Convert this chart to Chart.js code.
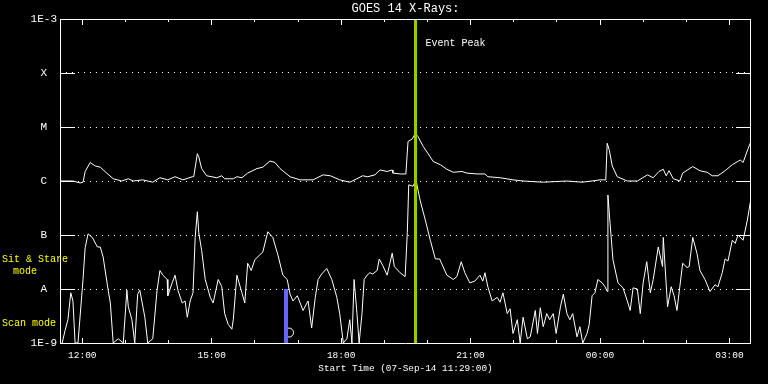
<!DOCTYPE html>
<html><head><meta charset="utf-8">
<script src="https://cdn.jsdelivr.net/npm/chart.js@4.4.0/dist/chart.umd.min.js"></script>
<style>html,body{margin:0;padding:0;background:#000;overflow:hidden}#wrap{width:768px;height:384px}</style>
</head><body><div id="wrap"><canvas id="c" width="768" height="384"></canvas></div>
<script>
// Times are minutes after 00:00 on 07-Sep-14 (values past 1440 are on 08-Sep)
const longTimes = [689,707,717,721,724,731,738,745,754,763,775,784,791,804,818,828,839,849,860,873,875,880,882,886,893,907,914,918,930,935,942,950,963,971,981,988,995,1009,1023,1041,1055,1065,1078,1092,1102,1110,1117,1127,1134,1144,1151,1152,1162,1166,1170,1173,1179,1183,1187,1194,1201,1208,1218,1227,1236,1248,1255,1269,1280,1284,1301,1319,1333,1361,1394,1415,1429,1440,1448,1450,1453,1457,1464,1478,1492,1506,1514,1522,1528,1532,1536,1542,1551,1555,1569,1579,1589,1596,1604,1614,1624,1635,1639,1646,1650];
const longFlux = [1.0e-6,1.0e-6,0.92e-6,0.95e-6,1.5e-6,2.2e-6,1.9e-6,1.8e-6,1.4e-6,1.1e-6,1.0e-6,1.1e-6,1.0e-6,1.05e-6,0.95e-6,1.15e-6,1.05e-6,1.2e-6,1.05e-6,1.2e-6,1.2e-6,3.2e-6,2.8e-6,1.7e-6,1.25e-6,1.15e-6,1.25e-6,1.1e-6,1.1e-6,1.2e-6,1.15e-6,1.4e-6,1.7e-6,1.8e-6,2.35e-6,2.2e-6,1.7e-6,1.2e-6,1.05e-6,1.05e-6,1.3e-6,1.25e-6,1.05e-6,0.95e-6,1.1e-6,1.25e-6,1.2e-6,1.3e-6,1.6e-6,1.5e-6,1.6e-6,1.4e-6,1.35e-6,1.35e-6,1.35e-6,5.4e-6,6.0e-6,7.6e-6,6.6e-6,4.4e-6,3.2e-6,2.3e-6,2.0e-6,1.65e-6,1.45e-6,1.5e-6,1.4e-6,1.35e-6,1.35e-6,1.2e-6,1.15e-6,1.05e-6,1.0e-6,0.95e-6,1.0e-6,0.95e-6,1.0e-6,1.05e-6,1.05e-6,5.0e-6,3.7e-6,1.9e-6,1.2e-6,1.0e-6,1.0e-6,1.3e-6,1.15e-6,1.5e-6,1.65e-6,1.25e-6,1.55e-6,1.1e-6,1.0e-6,1.4e-6,1.85e-6,1.55e-6,1.45e-6,1.25e-6,1.25e-6,1.55e-6,2.0e-6,2.45e-6,2.2e-6,4.0e-6,5.4e-6];
const shortTimes = [692,696,700,704,707,710,714,721,724,728,734,741,745,749,756,759,763,770,777,782,784,789,793,797,800,807,811,818,824,828,832,838,839,845,849,853,859,863,866,870,874,877,880,882,886,891,898,902,909,914,918,923,928,930,935,942,946,950,955,960,967,971,978,985,992,999,1005,1009,1013,1019,1023,1027,1034,1039,1044,1048,1053,1060,1067,1074,1078,1083,1088,1092,1095,1098,1102,1105,1109,1112,1116,1120,1124,1130,1133,1138,1144,1151,1154,1162,1169,1172,1174,1180,1184,1190,1197,1204,1211,1217,1227,1236,1241,1247,1252,1259,1266,1273,1277,1280,1284,1290,1297,1301,1305,1311,1315,1319,1325,1329,1333,1339,1343,1350,1353,1357,1361,1366,1370,1375,1379,1385,1389,1394,1398,1402,1408,1412,1416,1422,1425,1429,1433,1437,1443,1447,1450,1451,1454,1458,1465,1472,1478,1482,1486,1492,1496,1500,1505,1510,1514,1521,1527,1528,1534,1539,1543,1547,1551,1555,1561,1564,1569,1575,1579,1586,1593,1600,1604,1610,1614,1618,1624,1628,1632,1639,1645,1649];
const shortFlux = [1.0e-9,1.7e-9,2.7e-9,8.5e-9,6e-9,1e-9,1e-9,1.5e-8,5.8e-8,1.05e-7,9e-8,6e-8,6e-8,3.9e-8,9.5e-9,5.5e-9,1e-9,1.2e-9,1e-9,9.5e-9,4.7e-9,2.7e-9,1e-9,8e-9,9.5e-9,3e-9,1e-9,1.2e-9,9.5e-9,2.2e-8,1.8e-8,1.5e-8,7.5e-9,1.3e-8,1.8e-8,9.5e-9,5.5e-9,6e-9,3e-9,6e-9,8.5e-9,9e-8,2.7e-7,1.1e-7,5.2e-8,1.5e-8,7e-9,5.5e-9,1.5e-8,1.1e-8,3.5e-9,2.2e-9,1.8e-9,2.7e-9,1.8e-8,8.5e-9,5.5e-9,3e-8,2.2e-8,3.5e-8,4.3e-8,4.8e-8,1.15e-7,9e-8,4.3e-8,1.8e-8,1.5e-8,8e-9,6e-9,7.5e-9,5.5e-9,4e-9,6e-9,1.9e-9,7e-9,1.5e-8,1.9e-8,2.4e-8,1.5e-8,7e-9,3.5e-9,1e-9,1.2e-9,2.7e-9,1e-9,1.5e-8,3.5e-9,1e-9,3.5e-9,1.5e-8,1.8e-8,2e-8,1.9e-8,2.2e-8,3.6e-8,2.7e-8,1.8e-8,4.6e-8,2.6e-8,2e-8,1.7e-8,1.1e-7,8.5e-7,8e-7,1.05e-6,4.3e-7,1.9e-7,8e-8,3.6e-8,3.6e-8,1.8e-8,1.5e-8,1.7e-8,3.2e-8,2e-8,1.3e-8,1.4e-8,1.8e-8,1.4e-8,2e-8,1.1e-8,6e-9,7e-9,5.7e-9,8.5e-9,3.5e-9,4.3e-9,1.5e-9,2.7e-9,1e-9,3e-9,1.2e-9,1.3e-9,4e-9,1.5e-9,4.5e-9,2e-9,3.5e-9,2.7e-9,3.5e-9,1.5e-9,4.7e-9,8e-9,3.5e-9,2.7e-9,3.5e-9,1.3e-9,2e-9,1e-9,1.5e-9,2.2e-9,7.5e-9,8.5e-9,1.5e-8,1.3e-8,1.1e-8,9e-9,5.5e-7,1.65e-7,3.5e-8,1.3e-8,1.05e-8,6e-9,4e-9,1.05e-8,1.0e-8,3.5e-9,1.3e-8,3.2e-8,8.5e-9,1.5e-8,6e-8,2.6e-8,9e-8,4.7e-9,1.1e-8,7.5e-9,4e-9,1.1e-8,3e-8,2.5e-8,2.6e-8,9e-8,4.5e-8,2.2e-8,1.5e-8,9e-9,1.2e-8,1.1e-8,2e-8,3.6e-8,3.3e-8,8e-8,7e-8,1e-7,8e-8,1.9e-7,4e-7];

const yTickValues = [1e-9,1e-8,1e-7,1e-6,1e-5,1e-4,1e-3];
const yTickLabels = ['1E-9','A','B','C','M','X','1E-3'];
const xTickMinutes = [720,900,1080,1260,1440,1620];
const xTickLabels = ['12:00','15:00','18:00','21:00','00:00','03:00'];
const startMinute = 689, endMinute = 1650;
const eventPeakMinute = 1183.4;
const scanMarkMinute = 1003.3;
const scanMarkFlux = [1e-9, 1e-8];
const scanCircle = {t: 1007.5, flux: 1.56e-9};

const FONT = '"Liberation Mono", "DejaVu Sans Mono", monospace';

const overlay = {
  id: 'overlay',
  beforeDraw(chart) {
    const ctx = chart.ctx;
    ctx.save(); ctx.fillStyle = '#000'; ctx.fillRect(0, 0, chart.width, chart.height); ctx.restore();
  },
  afterDraw(chart) {
    const {ctx, chartArea: a, scales: {x, y}} = chart;
    ctx.save();
    ctx.strokeStyle = '#fff'; ctx.lineWidth = 1;
    ctx.beginPath();
    ctx.moveTo(a.left + 0.5, a.top + 0.5);
    ctx.lineTo(a.right - 0.5, a.top + 0.5);
    ctx.lineTo(a.right - 0.5, a.bottom + 0.5);
    ctx.lineTo(a.left + 0.5, a.bottom + 0.5);
    ctx.closePath();
    for (const v of yTickValues) {
      const py = Math.round(y.getPixelForValue(v)) + 0.5;
      ctx.moveTo(a.left, py); ctx.lineTo(a.left + 15, py);
      ctx.moveTo(a.right - 15, py); ctx.lineTo(a.right, py);
    }
    for (let m = Math.ceil(startMinute / 60) * 60; m <= endMinute; m += 60) {
      const px = Math.floor(x.getPixelForValue(m)) + 0.5;
      const major = xTickMinutes.includes(m);
      ctx.moveTo(px, a.top); ctx.lineTo(px, a.top + (major ? 6 : 3));
      ctx.moveTo(px, a.bottom); ctx.lineTo(px, a.bottom - (major ? 5 : 3));
    }
    ctx.stroke();
    ctx.textBaseline = 'middle'; ctx.textAlign = 'left';
    ctx.font = '10px ' + FONT;
    ctx.fillStyle = '#fff';
    ctx.fillText('Event Peak', x.getPixelForValue(eventPeakMinute) + 10, 43);
    ctx.fillStyle = '#ffff00';
    ctx.fillText('Sit & Stare', 2, 259);
    ctx.fillText('mode', 13, 271);
    ctx.fillText('Scan mode', 2, 323);
    ctx.restore();
  }
};

new Chart(document.getElementById('c'), {
  type: 'line',
  data: {
    datasets: [
      {label: 'Event Peak', data: [{x: eventPeakMinute, y: 1e-9}, {x: eventPeakMinute, y: 1e-3}], borderColor: '#99cc00', borderWidth: 3, pointRadius: 0},
      {label: 'Scan', data: scanMarkFlux.map(f => ({x: scanMarkMinute, y: f})), borderColor: '#6666ff', borderWidth: 4, pointRadius: 0},
      {label: 'Scan start', data: [{x: scanCircle.t, y: scanCircle.flux}], showLine: false, pointRadius: 4.5, pointBorderWidth: 1, pointBorderColor: '#fff', pointBackgroundColor: 'rgba(0,0,0,0)'},
      {label: '1-8 A', data: longTimes.map((t, i) => ({x: t, y: longFlux[i]})), borderColor: '#fff', borderWidth: 1, pointRadius: 0, tension: 0},
      {label: '0.5-4 A', data: shortTimes.map((t, i) => ({x: t, y: shortFlux[i]})), borderColor: '#fff', borderWidth: 1, pointRadius: 0, tension: 0}
    ]
  },
  options: {
    responsive: false, animation: false, devicePixelRatio: 1,
    layout: {padding: {left: 0, right: 17, top: 0, bottom: 0}},
    plugins: {
      legend: {display: false}, tooltip: {enabled: false},
      title: {display: true, text: 'GOES 14 X-Rays:', color: '#fff', fullSize: false,
        font: {family: FONT, size: 12, weight: 'normal'}, padding: {top: 2, bottom: 2.6}}
    },
    scales: {
      x: {
        type: 'linear', position: 'bottom', min: startMinute, max: endMinute,
        afterBuildTicks: s => { s.ticks = xTickMinutes.map(v => ({value: v})); },
        afterFit: s => { s.height = 41; },
        ticks: {color: '#fff', font: {family: FONT, size: 9.5}, padding: 7, maxRotation: 0, autoSkip: false,
          callback: v => xTickLabels[xTickMinutes.indexOf(v)]},
        grid: {display: false, drawTicks: false}, border: {display: false},
        title: {display: true, text: 'Start Time (07-Sep-14 11:29:00)', color: '#fff',
          font: {family: FONT, size: 9.4}, padding: {top: 0, bottom: 10}}
      },
      y: {
        type: 'logarithmic', min: 1e-9, max: 1e-3,
        afterBuildTicks: s => { s.ticks = yTickValues.map(v => ({value: v})); },
        afterFit: s => { s.width = 60; },
        ticks: {color: '#fff', font: {family: FONT, size: 11}, padding: 3, crossAlign: 'center', autoSkip: false,
          callback: v => yTickLabels[yTickValues.findIndex(t => Math.abs(Math.log10(t) - Math.log10(v)) < 1e-6)]},
        grid: {color: '#fff', lineWidth: 1, drawTicks: false},
        border: {display: false, dash: [1, 5]}
      }
    }
  },
  plugins: [overlay]
});
</script></body></html>
